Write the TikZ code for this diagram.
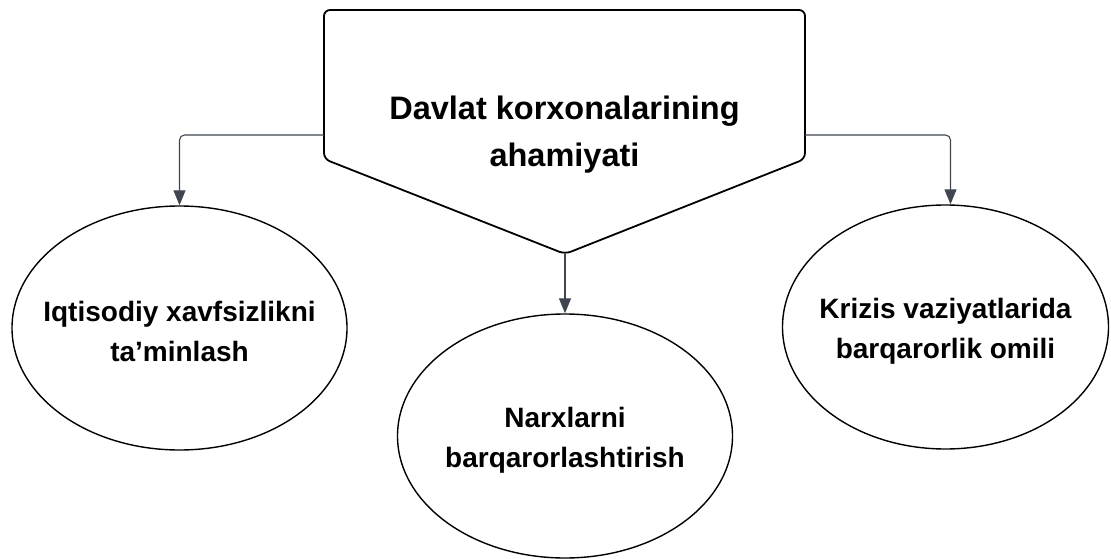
\documentclass[tikz,border=0pt]{standalone}
\usepackage{fontspec}
\setmainfont{Liberation Sans}
\usetikzlibrary{arrows.meta,shapes.geometric}
\definecolor{linkgray}{HTML}{3F4651}
\begin{document}
\begin{tikzpicture}[x=1pt, y=-1pt,
  idea/.style={ellipse, draw, line width=1.4pt, minimum width=335pt, minimum height=244pt, inner sep=0pt},
  ideatext/.style={inner sep=0pt, align=center, font=\fontsize{28}{40}\selectfont\bfseries},
  link/.style={draw=linkgray, line width=1.1pt, rounded corners=5pt, -{Triangle[width=12pt,length=15pt]}}]
\useasboundingbox (0,0) rectangle (1111,559);
\draw[line width=1.8pt, rounded corners=6pt] (565,10) -- (805,10) -- (805,159) -- (565,254) -- (324,159) -- (324,10) -- cycle;
\coordinate (tip) at (565,254);
\node[minimum width=481pt, inner sep=0pt, align=center, font=\fontsize{32.5}{47}\selectfont\bfseries] (head) at (564.5,135) {Davlat korxonalarining\\ahamiyati};
\node[idea] (left) at (179.5,328) {};
\node[idea] (mid) at (565,436) {};
\node[idea, minimum width=326pt] (right) at (945.5,327) {};
\node[ideatext] (left-text) at (179.5,331) {Iqtisodiy xavfsizlikni\\ta’minlash};
\node[ideatext] (mid-text) at (565,440) {Narxlarni\\barqarorlashtirish};
\node[ideatext] (right-text) at (945.5,331) {Krizis vaziyatlarida\\barqarorlik omili};
\draw[link] (head.west) -| (left.north);
\draw[link] (tip) -- (mid.north);
\draw[link] (head.east) -| ([xshift=5pt]right.north);
\end{tikzpicture}
\end{document}
